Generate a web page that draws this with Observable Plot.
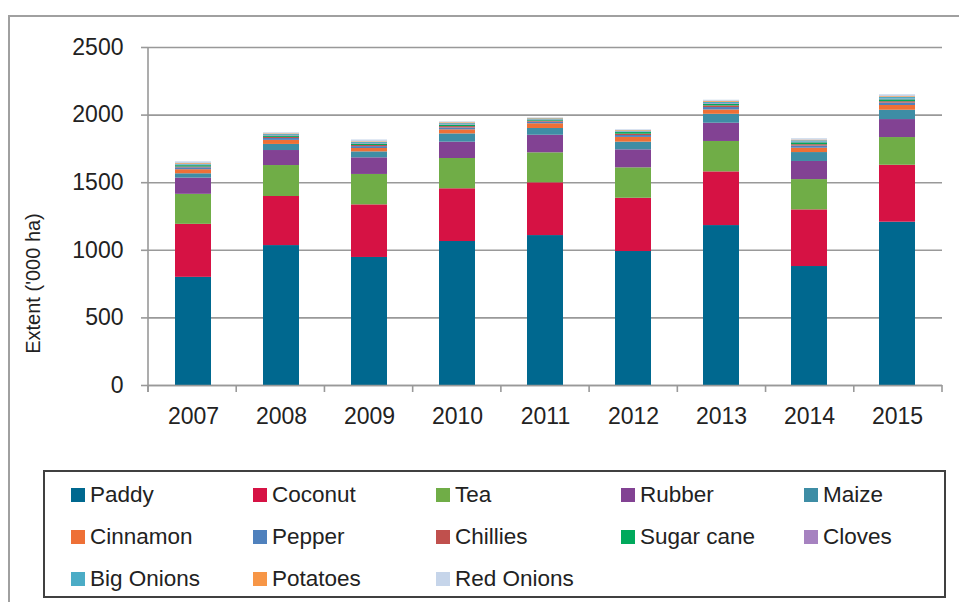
<!DOCTYPE html>
<html><head><meta charset="utf-8">
<script src="https://cdn.jsdelivr.net/npm/d3@7"></script>
<script src="https://cdn.jsdelivr.net/npm/@observablehq/plot@0.6"></script>
<style>
body{margin:0;background:#fff;font-family:"Liberation Sans",Arial,sans-serif;}
#wrap{position:relative;width:959px;height:602px;overflow:hidden;background:#fff;}
#frame{position:absolute;left:8px;top:15px;width:1000px;height:700px;border-left:2px solid #a0a0a0;border-top:2px solid #a0a0a0;}
#chart{position:absolute;left:0;top:0;}
#legend{position:absolute;left:43px;top:470px;width:903px;height:128px;border:2px solid #404040;box-sizing:border-box;}
.item{position:absolute;font-size:22.5px;color:#222;line-height:22px;white-space:nowrap;display:flex;align-items:center;}
.sw{display:inline-block;width:14px;height:14px;margin-right:5px;}
</style>
</head><body>
<div id="wrap"><div id="frame"></div><div id="chart"></div><div id="legend"></div></div>
<script>
const years = ["2007","2008","2009","2010","2011","2012","2013","2014","2015"];
const crops = ["Paddy","Coconut","Tea","Rubber","Maize","Cinnamon","Pepper","Chillies","Sugar cane","Cloves","Big Onions","Potatoes","Red Onions"];
const colors = ["#00688F","#D61244","#70AD47","#824293","#3E8DA5","#EE7036","#4F81BD","#C0504D","#00A95C","#A682C0","#4BACC6","#F79646","#C6D5EA"];

const paddy     = [800, 1035, 947, 1065, 1109, 991, 1183, 880, 1208];
const coconut   = [392, 363, 389, 390, 390, 394, 397, 419, 421];
const tea       = [222, 229, 225, 224, 222, 225, 225, 224, 205];
const rubber    = [120, 111, 123, 121, 130, 133, 135, 134, 133];
const maize     = [32, 45, 44, 61, 50, 57, 66, 66, 69];
const cinnamon  = [30, 30, 25, 30, 35, 35, 32, 32, 35];
const pepper    = [14, 14, 14, 14, 12, 14, 18, 16, 18];
const chillies  = [6, 8, 8, 10, 7, 10, 12, 10, 10];
const sugarcane = [10, 10, 10, 10, 8, 12, 12, 14, 14];
const cloves    = [4, 4, 4, 4, 3, 4, 5, 5, 5];
const bigOnions = [7, 7, 8, 8, 6, 7, 10, 10, 12];
const potatoes  = [5, 5, 5, 6, 4, 4, 6, 5, 6];
const redOnions = [12, 8, 14, 7, 4, 5, 9, 10, 14];
const yTicks = [0, 500, 1000, 1500, 2000, 2500];

const series = [paddy, coconut, tea, rubber, maize, cinnamon, pepper, chillies, sugarcane, cloves, bigOnions, potatoes, redOnions];
const data = years.flatMap((y, i) => crops.map((c, j) => ({year: y, crop: c, value: series[j][i]})));

const axisLines = (index, scales, values, dim) => {
  const g = d3.create("svg:g");
  const step = (dim.width - dim.marginLeft - dim.marginRight) / years.length;
  const y0 = scales.y(0), y1 = scales.y(2500);
  g.append("line").attr("x1", dim.marginLeft).attr("x2", dim.marginLeft).attr("y1", y1).attr("y2", y0 + 7)
    .attr("stroke", "#999").attr("stroke-width", 1.6);
  for (let k = 0; k <= years.length; k++) {
    const x = dim.marginLeft + k * step;
    g.append("line").attr("x1", x).attr("x2", x).attr("y1", y0).attr("y2", y0 + 7)
      .attr("stroke", "#999").attr("stroke-width", 1.6);
  }
  return g.node();
};

const chart = Plot.plot({
  width: 959, height: 460,
  marginLeft: 148, marginRight: 17, marginTop: 47, marginBottom: 75,
  x: {domain: years, paddingInner: 0.59, paddingOuter: 0.295, axis: null},
  y: {domain: [0, 2500], axis: null},
  color: {domain: crops, range: colors},
  style: {fontFamily: "'Liberation Sans', Arial, sans-serif", color: "#222", background: "transparent"},
  marks: [
    Plot.gridY(yTicks, {stroke: "#999", strokeOpacity: 1, strokeWidth: 1.6}),
    Plot.barY(data, {x: "year", y: "value", fill: "crop"}),
    Plot.ruleY([0], {stroke: "#999", strokeWidth: 1.6}),
    axisLines,
    Plot.axisY(yTicks, {tickSize: 7, tickPadding: 18, tickFormat: d => String(d), stroke: "#999", strokeWidth: 1.6, fontSize: 23, fill: "#222", label: null}),
    Plot.axisX({tickSize: 0, tickPadding: 22, fontSize: 23, fill: "#222", label: null}),
    Plot.text(["Extent ('000 ha)"], {frameAnchor: "left", dx: -115, dy: 67, rotate: -90, fontSize: 20, fill: "#222", textAnchor: "middle"})
  ]
});
document.getElementById("chart").appendChild(chart);

const legend = document.getElementById("legend");
const colX = [26, 208, 391, 576, 759];
const rowY = [12, 54, 96];
crops.forEach((c, i) => {
  const d = document.createElement("div");
  d.className = "item";
  d.style.left = colX[i % 5] + "px";
  d.style.top = rowY[Math.floor(i / 5)] + "px";
  const s = document.createElement("span");
  s.className = "sw";
  s.style.background = colors[i];
  d.appendChild(s);
  d.appendChild(document.createTextNode(c));
  legend.appendChild(d);
});
</script>
</body></html>
